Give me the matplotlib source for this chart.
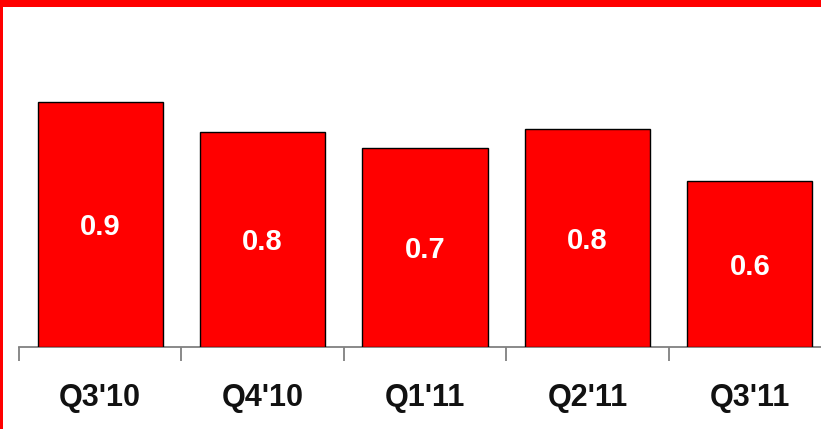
import matplotlib
matplotlib.use("Agg")
import matplotlib.pyplot as plt
from matplotlib.patches import Rectangle

# Quarterly values
quarters = ["Q3'10", "Q4'10", "Q1'11", "Q2'11", "Q3'11"]
values = [0.90, 0.79, 0.73, 0.80, 0.61]

RED = "#FF0000"
W, H = 821, 429

plt.rcParams["font.family"] = ["Liberation Sans", "DejaVu Sans"]

fig = plt.figure(figsize=(W / 100, H / 100), dpi=100)

# axes: left edge at the first category boundary, baseline near the bottom
left = 19 / W
bottom = (H - 347) / H
width = 812 / W
height = 272 / H
ax = fig.add_axes([left, bottom, width, height])

x = list(range(len(quarters)))
bars = ax.bar(x, values, width=0.77, color=RED, edgecolor="black", linewidth=1.0, zorder=3)

for xi, v in zip(x, values):
    ax.text(xi, v / 2 - 0.01, f"{v:.1f}", ha="center", va="center", color="white",
            fontsize=21, fontweight="bold", zorder=4)

ax.set_xlim(-0.5, len(quarters) - 0.5)
ax.set_ylim(0, 1.0)

for s in ["top", "left", "right"]:
    ax.spines[s].set_visible(False)
ax.spines["bottom"].set_color("#808080")
ax.spines["bottom"].set_linewidth(1.3)
ax.set_yticks([])

ax.set_xticks(x)
ax.set_xticklabels(quarters, fontsize=22, fontweight="bold", color="#111111")
ax.tick_params(axis="x", which="major", length=0, pad=26)
ax.set_xticks([i - 0.5 for i in range(len(quarters) + 1)], minor=True)
ax.tick_params(axis="x", which="minor", length=10, width=1.3, color="#808080", direction="out")

# frame: red band across the top, red rule on the left edge
fig.patches.append(Rectangle((0, 1 - 6.5 / H), 1, 6.5 / H, transform=fig.transFigure,
                             facecolor=RED, edgecolor="none", zorder=10))
fig.patches.append(Rectangle((0, 0), 3 / W, 1, transform=fig.transFigure,
                             facecolor=RED, edgecolor="none", zorder=10))

fig.savefig("out.png", dpi=100)
